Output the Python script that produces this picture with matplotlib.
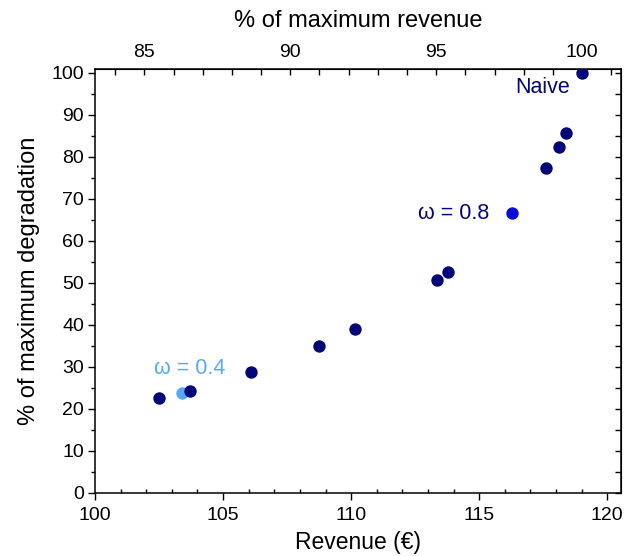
import matplotlib
matplotlib.use("Agg")
import matplotlib.pyplot as plt
from matplotlib.ticker import MultipleLocator, FixedLocator

plt.rcParams['font.family'] = ['Liberation Sans', 'DejaVu Sans']

# Revenue (€) and % of maximum degradation for each strategy
revenue = [102.51, 103.71, 106.09, 108.75, 110.16, 113.36, 113.78, 117.62, 118.13, 118.40, 119.02]
degradation = [22.6, 24.2, 28.7, 34.9, 38.9, 50.7, 52.5, 77.3, 82.3, 85.7, 100.0]

# Highlighted weights
w04_revenue = [103.39]
w04_degradation = [23.8]
w08_revenue = [116.29]
w08_degradation = [66.6]

# Top-axis tick values (% of maximum revenue)
pct_ticks = [85, 90, 95, 100]
pct_minor = [84, 86, 87, 88, 89, 91, 92, 93, 94, 96, 97, 98, 99, 101]

navy = '#05057a'
light_blue = '#55aaff'
blue = '#0a0ad8'

fig = plt.figure(figsize=(6.32, 5.56), dpi=100)
ax = fig.add_axes([0.1503, 0.1138, 0.8317, 0.7621])

ax.scatter(revenue, degradation, s=80, color=navy, zorder=3, linewidths=0)
ax.scatter(w04_revenue, w04_degradation, s=80, color=light_blue, zorder=2, linewidths=0)
ax.scatter(w08_revenue, w08_degradation, s=80, color=blue, zorder=3, linewidths=0)

ax.text(102.3, 29.5, 'ω = 0.4', color=light_blue, fontsize=15.5, va='center', ha='left')
ax.text(115.4, 66.6, 'ω = 0.8', color=navy, fontsize=15.5, va='center', ha='right')
ax.text(116.4, 96.6, 'Naive', color=navy, fontsize=15.5, va='center', ha='left')

ax.set_xlim(100, 120.52)
ax.set_ylim(0, 100.9)

ax.xaxis.set_major_locator(MultipleLocator(5))
ax.xaxis.set_minor_locator(MultipleLocator(1))
ax.yaxis.set_major_locator(MultipleLocator(10))
ax.yaxis.set_minor_locator(MultipleLocator(5))

ax.tick_params(axis='x', which='major', direction='out', length=5, width=1, labelsize=14, bottom=True, top=False, pad=5)
ax.tick_params(axis='x', which='minor', direction='in', length=3, width=1, bottom=True, top=False)
ax.tick_params(axis='y', which='major', direction='out', length=5, width=1, labelsize=14, left=True, right=False, pad=3)
ax.tick_params(axis='y', which='minor', direction='out', length=3, width=1, left=True, right=False)

for sp in ax.spines.values():
    sp.set_linewidth(1.1)

ax.set_xlabel('Revenue (€)', fontsize=16.5, labelpad=5)
ax.set_ylabel('% of maximum degradation', fontsize=17, labelpad=8)

# Right-side ticks every 5 (inward)
ax_r = ax.secondary_yaxis('right')
ax_r.yaxis.set_major_locator(MultipleLocator(5))
ax_r.tick_params(direction='in', length=4, width=1, labelright=False)

# Top axis: % of maximum revenue
rev_85 = 101.93
rev_per_pct = 1.139

def rev_to_pct(r):
    return 85 + (r - rev_85) / rev_per_pct

def pct_to_rev(p):
    return rev_85 + (p - 85) * rev_per_pct

ax_t = ax.secondary_xaxis('top', functions=(rev_to_pct, pct_to_rev))
ax_t.xaxis.set_major_locator(FixedLocator(pct_ticks))
ax_t.xaxis.set_minor_locator(FixedLocator(pct_minor))
ax_t.tick_params(which='major', direction='in', length=4, width=1, labelsize=14, pad=6)
ax_t.tick_params(which='minor', direction='in', length=4, width=1)
ax_t.set_xlabel('% of maximum revenue', fontsize=17, labelpad=12)

fig.savefig('out.png', dpi=100)
